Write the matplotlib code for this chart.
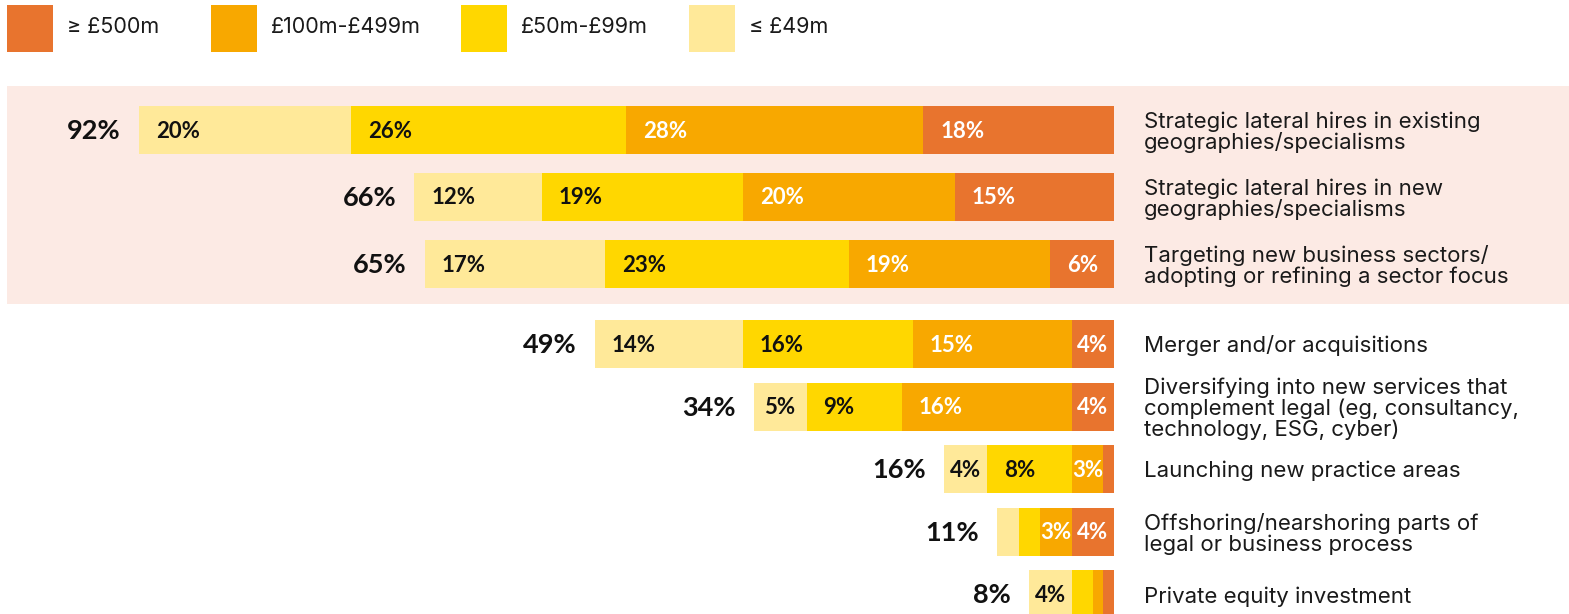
import matplotlib.pyplot as plt
from matplotlib.patches import Rectangle

plt.rcParams['font.family'] = ['Lato', 'DejaVu Sans']

categories = [
    'Strategic lateral hires in existing\ngeographies/specialisms',
    'Strategic lateral hires in new\ngeographies/specialisms',
    'Targeting new business sectors/\nadopting or refining a sector focus',
    'Merger and/or acquisitions',
    'Diversifying into new services that\ncomplement legal (eg, consultancy,\ntechnology, ESG, cyber)',
    'Launching new practice areas',
    'Offshoring/nearshoring parts of\nlegal or business process',
    'Private equity investment',
]
totals = [92, 66, 65, 49, 34, 16, 11, 8]
# shares by firm revenue band, left to right
small = [20, 12, 17, 14, 5, 4, 2, 4]      # <= £49m
mid = [26, 19, 23, 16, 9, 8, 2, 2]        # £50m-£99m
large = [28, 20, 19, 15, 16, 3, 3, 1]     # £100m-£499m
top = [18, 15, 6, 4, 4, 1, 4, 1]          # >= £500m

bands = ['\u2265 £500m', '£100m-£499m', '£50m-£99m', '\u2264 £49m']
colors = ['#E8742E', '#F8A800', '#FFD700', '#FFE999']
text_colors = ['white', 'white', '#111111', '#111111']

W, H = 1569, 614
px_per_pct = 10.6
bar_end = 1114

fig = plt.figure(figsize=(W / 100, H / 100), dpi=100)
ax = fig.add_axes([0, 0, 1, 1])
ax.set_xlim(100 - bar_end / px_per_pct, 100 + (W - bar_end) / px_per_pct)
ax.set_ylim(H, 0)
ax.axis('off')

# highlight band behind first three rows
ax.add_patch(Rectangle((100 - (bar_end - 7) / px_per_pct, 86),
                       (W - 7) / px_per_pct, 218,
                       facecolor='#FCEAE4', edgecolor='none', zorder=0))

ys = [130, 197, 264, 344, 406.6, 469.2, 531.8, 594.4]
bar_h = 48

series = [small, mid, large, top]
ser_colors = [colors[3], colors[2], colors[1], colors[0]]
ser_text = [text_colors[3], text_colors[2], text_colors[1], text_colors[0]]

for i, y in enumerate(ys):
    left = 100 - totals[i]
    for vals, c, tc in zip(series, ser_colors, ser_text):
        v = vals[i]
        ax.barh(y, v, left=left, height=bar_h, color=c, edgecolor='none', zorder=2)
        if v >= 3:
            if v >= 6:
                ax.text(left + 1.6, y + 1, f'{v}%', ha='left', va='center',
                        fontsize=16, fontweight='bold', color=tc, zorder=3)
            else:
                ax.text(left + v / 2, y + 1, f'{v}%', ha='center', va='center',
                        fontsize=16, fontweight='bold', color=tc, zorder=3)
        left += v
    ax.text(100 - totals[i] - 1.7, y + 1, f'{totals[i]}%', ha='right', va='center',
            fontsize=19.5, fontweight='bold', color='#111111', zorder=3)
    ax.text(100 + 30 / px_per_pct, y + 2, categories[i], ha='left', va='center',
            fontsize=16, color='#1a1a1a', linespacing=1.02,
            family=['Inter', 'DejaVu Sans'], zorder=3)

# legend
leg_x = [7, 211, 461, 689]
for lx, lab, c in zip(leg_x, bands, colors):
    x0 = 100 - (bar_end - lx) / px_per_pct
    ax.add_patch(Rectangle((x0, 5), 46 / px_per_pct, 47, facecolor=c,
                           edgecolor='none'))
    ax.text(x0 + 60 / px_per_pct, 27, lab, ha='left', va='center',
            fontsize=15.5, color='#1a1a1a', family=['Inter', 'DejaVu Sans'])

fig.savefig('out.png', dpi=100)
